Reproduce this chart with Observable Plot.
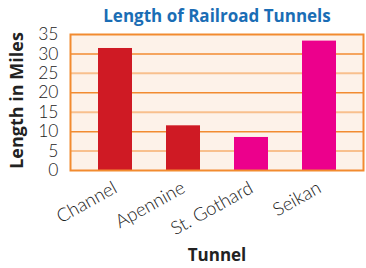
<!DOCTYPE html>
<html>
<head>
<meta charset="utf-8">
<script src="https://cdn.jsdelivr.net/npm/d3@7"></script>
<script src="https://cdn.jsdelivr.net/npm/@observablehq/plot@0.6"></script>
<style>
  body { margin: 0; background: white; }
  .frame-bg rect { filter: drop-shadow(2px 3px 2px rgba(0,0,0,0.25)); }
</style>
</head>
<body>
<div id="chart"></div>
<script>
const title = "Length of Railroad Tunnels";
const tunnels = ["Channel", "Apennine", "St. Gothard", "Seikan"];
const lengths = [31.4, 11.5, 8.5, 33.3];
const yTicks = [0, 5, 10, 15, 20, 25, 30, 35];
const darkGrid = [10, 20, 30];
const lightGrid = [5, 15, 25];

const data = tunnels.map((t, i) => ({tunnel: t, length: lengths[i]}));

const chart = Plot.plot({
  width: 366,
  height: 268,
  marginLeft: 70,
  marginRight: 3,
  marginTop: 34,
  marginBottom: 98,
  style: {fontFamily: "'Open Sans', sans-serif", background: "white"},
  x: {domain: tunnels, paddingInner: 0.5, paddingOuter: 0.39, label: null},
  y: {domain: [0, 35], label: null},
  color: {domain: tunnels, range: ["#cf1a24", "#cf1a24", "#ec008c", "#ec008c"]},
  marks: [
    Plot.frame({fill: "#fdf2e9", stroke: "none", className: "frame-bg"}),
    Plot.ruleY(lightGrid, {stroke: "#f8c08e", strokeWidth: 2}),
    Plot.ruleY(darkGrid, {stroke: "#f28b30", strokeWidth: 1.5}),
    Plot.barY(data, {x: "tunnel", y: "length", fill: "tunnel"}),
    Plot.frame({stroke: "#f28b30", strokeWidth: 2}),
    Plot.axisY({ticks: yTicks, tickSize: 0, tickPadding: 12, fontSize: 17.5, fill: "#222", label: null, fontFamily: "Lato", fontWeight: 300}),
    Plot.axisX({tickSize: 0, tickRotate: -29, tickPadding: 16, fontSize: 18.5, fill: "#222", label: null, fontFamily: "Lato", fontWeight: 300}),
    Plot.text([title], {frameAnchor: "top", lineAnchor: "middle", dy: -18, fontSize: 17, fontWeight: "bold", fill: "#1a6db5"}),
    Plot.text(["Tunnel"], {frameAnchor: "bottom", lineAnchor: "middle", dy: 85, fontSize: 17, fontWeight: "bold", fill: "#222"}),
    Plot.text(["Length in Miles"], {frameAnchor: "left", textAnchor: "middle", lineAnchor: "middle", dx: -53, dy: -2, rotate: -90, fontSize: 18, fontWeight: "bold", fill: "#222"})
  ]
});
document.getElementById("chart").appendChild(chart);
</script>
</body>
</html>
